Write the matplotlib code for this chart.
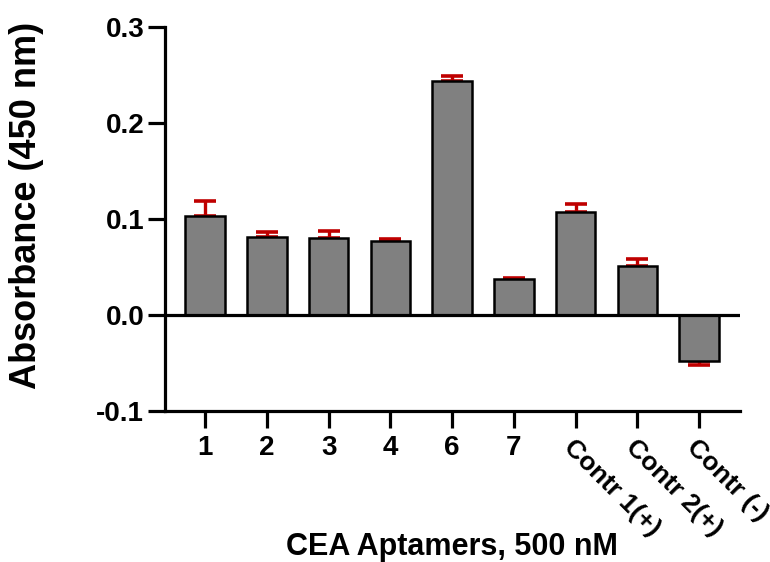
import matplotlib
matplotlib.use("Agg")
import matplotlib.pyplot as plt
import numpy as np

categories = ["1", "2", "3", "4", "6", "7", "Contr 1(+)", "Contr 2(+)", "Contr (-)"]
values = [0.103, 0.081, 0.080, 0.077, 0.244, 0.037, 0.107, 0.051, -0.048]
errors = [0.016, 0.005, 0.008, 0.002, 0.005, 0.002, 0.009, 0.007, 0.004]
y_ticks = [-0.1, 0.0, 0.1, 0.2, 0.3]
y_ticklabels = ["-0.1", "0.0", "0.1", "0.2", "0.3"]

plt.rcParams['font.family'] = ['Liberation Sans', 'DejaVu Sans']
plt.rcParams['font.weight'] = 'bold'

fig = plt.figure(figsize=(7.7, 5.62), dpi=100)
ax = fig.add_axes([165/770, 1-411/562, (740-165)/770, (411-27)/562])

x = np.arange(len(categories))
vals = np.array(values)
errs = np.array(errors)
upper = np.where(vals >= 0, errs, 0)
lower = np.where(vals < 0, errs, 0)

ax.errorbar(x, vals, yerr=[lower, upper], fmt='none', ecolor='#BF0000',
            elinewidth=2.4, capsize=8, capthick=2.6, zorder=1)
ax.bar(x, vals, width=0.64, color='#808080', edgecolor='black', linewidth=1.8, zorder=2)
ax.axhline(0, color='black', linewidth=2.3, zorder=3)

ax.set_xlim(-0.65, len(categories) - 1 + 0.66)
ax.set_ylim(-0.1, 0.3)
ax.set_yticks(y_ticks)
ax.set_yticklabels(y_ticklabels, fontsize=20, fontweight='bold')
ax.set_xticks(x)
ax.set_xticklabels(categories, fontsize=20, fontweight='bold')
for lab in ax.get_xticklabels():
    if lab.get_text().startswith("Contr"):
        lab.set_rotation(-45)
        lab.set_rotation_mode('anchor')
        lab.set_ha('left')
        lab.set_va('top')
        lab.set_fontsize(19)

ax.spines['top'].set_visible(False)
ax.spines['right'].set_visible(False)
ax.spines['left'].set_linewidth(2.3)
ax.spines['bottom'].set_linewidth(2.3)
ax.tick_params(axis='both', direction='out', length=12, width=2.3, color='black')
ax.tick_params(axis='x', pad=5)
ax.tick_params(axis='y', pad=3)

fig.text(27/770, 1-205/562, "Absorbance (450 nm)", fontsize=26, fontweight='bold',
         rotation=90, ha='center', va='center')
fig.text(452/770, 1-547/562, "CEA Aptamers, 500 nM", fontsize=22, fontweight='bold',
         ha='center', va='center')

fig.savefig("out.png", dpi=100)
